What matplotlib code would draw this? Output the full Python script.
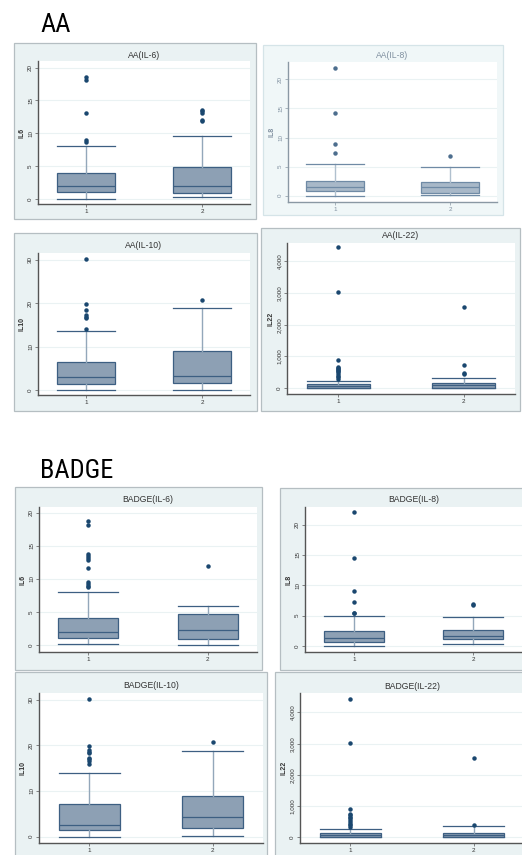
import matplotlib
matplotlib.use("Agg")
import matplotlib.pyplot as plt
from matplotlib.patches import Rectangle
from matplotlib.ticker import FuncFormatter
from matplotlib import font_manager

W, H = 522, 855

# box stats per group: [whisker low, q1, median, q3, whisker high]
aa_il6_box = [[0.0, 1.0, 1.9, 4.0, 8.0], [0.2, 0.9, 2.0, 4.8, 9.5]]
aa_il6_out = [[18.6, 18.1, 13.1, 8.9, 8.7], [13.6, 13.4, 13.1, 12.0, 11.8]]

aa_il8_box = [[0.0, 0.8, 1.5, 2.6, 5.4], [0.1, 0.5, 1.5, 2.4, 5.0]]
aa_il8_out = [[21.9, 14.3, 8.8, 7.3], [6.8]]

aa_il10_box = [[0.15, 1.5, 3.0, 6.4, 13.5], [0.0, 1.7, 3.2, 9.0, 18.9]]
aa_il10_out = [[30.2, 19.9, 18.5, 17.3, 16.8, 16.5, 14.0], [20.7]]

aa_il22_box = [[0, 10, 70, 125, 230], [0, 20, 95, 180, 315]]
aa_il22_out = [[4430, 3030, 890, 680, 650, 620, 580, 550, 500, 450, 400, 350, 300],
               [2565, 720, 490, 450]]

badge_il6_box = [[0.2, 1.05, 2.0, 4.1, 8.0], [0.05, 0.9, 2.2, 4.7, 5.9]]
badge_il6_out = [[18.7, 18.2, 13.7, 13.4, 13.2, 12.9, 11.7, 9.5, 9.2, 8.9, 8.7],
                 [12.0]]

badge_il8_box = [[0.0, 0.65, 1.3, 2.4, 5.0], [0.3, 1.2, 1.6, 2.7, 4.7]]
badge_il8_out = [[22.0, 14.5, 9.0, 7.3, 5.5, 5.4], [6.9, 6.8]]

badge_il10_box = [[0.0, 1.4, 2.6, 7.1, 13.9], [0.2, 1.8, 4.3, 9.0, 18.8]]
badge_il10_out = [[30.1, 19.9, 18.9, 18.6, 18.3, 17.3, 16.9, 16.5, 15.9], [20.7]]

badge_il22_box = [[0, 20, 75, 140, 270], [0, 20, 75, 150, 355]]
badge_il22_out = [[4420, 3020, 890, 740, 700, 660, 620, 560, 500, 440, 380, 330],
                  [2550, 400]]

groups = ["1", "2"]

# colours (Stata s2color look)
BG = "#EAF2F3"
BORDER = "#B5BEC2"
FILL = "#8DA0B4"
EDGE = "#3D5F82"
WHISK = "#93A7BA"
DOT = "#1A476F"

plt.rcParams["font.family"] = ["Liberation Sans", "DejaVu Sans"]

fig = plt.figure(figsize=(W / 100, H / 100), dpi=100)


def px_rect(x0, y0, x1, y1):
    return [x0 / W, 1 - y1 / H, (x1 - x0) / W, (y1 - y0) / H]


def comma(v, pos):
    return f"{int(v):,}"


def panel(frame, plot, title, title_y, ylabel, box, out, ylim, yticks,
          faded=False):
    fx0, fy0, fx1, fy1 = frame
    bg = "#F0F7F8" if faded else BG
    border = "#D5E4E8" if faded else BORDER
    fig.add_artist(Rectangle((fx0 / W, 1 - fy1 / H), (fx1 - fx0) / W,
                             (fy1 - fy0) / H, transform=fig.transFigure,
                             facecolor=bg, edgecolor=border, lw=0.9,
                             zorder=0))
    ax = fig.add_axes(px_rect(*plot))
    ax.set_facecolor("white")

    txt = "#8090A0" if faded else "#333333"
    fill = "#A8B8C8" if faded else FILL
    edge = "#6F8AA5" if faded else EDGE
    whisk = "#B0C0CE" if faded else WHISK
    dot = "#4D6E8E" if faded else DOT
    axis_col = "#8A98A4" if faded else "#555555"

    stats = []
    for b, o in zip(box, out):
        stats.append(dict(whislo=b[0], q1=b[1], med=b[2], q3=b[3],
                          whishi=b[4], fliers=o))
    ax.bxp(stats, positions=[1, 2], widths=0.5, patch_artist=True,
           boxprops=dict(facecolor=fill, edgecolor=edge, lw=0.9),
           medianprops=dict(color=edge, lw=0.9),
           whiskerprops=dict(color=whisk, lw=1.0),
           capprops=dict(color=edge, lw=0.9),
           capwidths=0.5,
           flierprops=dict(marker="o", markersize=2.2, markerfacecolor=dot,
                           markeredgecolor=dot))

    ax.set_xlim(0.59, 2.41)
    ax.set_ylim(*ylim)
    ax.set_xticks([1, 2])
    ax.set_xticklabels(groups)
    ax.set_yticks(yticks)
    if max(yticks) >= 1000:
        ax.yaxis.set_major_formatter(FuncFormatter(comma))
    ax.grid(axis="y", color=BG, lw=0.8)
    ax.set_axisbelow(True)
    for s in ["top", "right"]:
        ax.spines[s].set_visible(False)
    for s in ["left", "bottom"]:
        ax.spines[s].set_color(axis_col)
        ax.spines[s].set_linewidth(1.0)
    ax.tick_params(axis="both", length=2, width=0.5, colors=axis_col,
                   labelsize=4.5, labelcolor=txt, pad=1.5)
    for lab in ax.get_yticklabels():
        lab.set_rotation(90)
        lab.set_va("center")
    ax.set_ylabel(ylabel, fontsize=5, color=txt, labelpad=2,
                  fontweight="bold")

    cx = (plot[0] + plot[2]) / 2
    fig.text(cx / W, 1 - title_y / H, title, ha="center", va="center",
             fontsize=6.2, color=txt)
    return ax


panel((14, 43, 256, 219), (38, 61, 250, 204), "AA(IL-6)", 55, "IL6",
      aa_il6_box, aa_il6_out, (-0.8, 21.0), [0, 5, 10, 15, 20])
panel((263, 45, 503, 215), (288, 62, 497, 202), "AA(IL-8)", 55, "IL8",
      aa_il8_box, aa_il8_out, (-1.1, 23.0), [0, 5, 10, 15, 20], faded=True)
panel((14, 233, 257, 411), (38, 253, 250, 395), "AA(IL-10)", 246, "IL10",
      aa_il10_box, aa_il10_out, (-1.1, 31.5), [0, 10, 20, 30])
panel((261, 228, 520, 411), (287, 243, 515, 394), "AA(IL-22)", 236, "IL22",
      aa_il22_box, aa_il22_out, (-180, 4570), [0, 1000, 2000, 3000, 4000])

panel((15, 487, 262, 670), (39, 507, 257, 652), "BADGE(IL-6)", 499, "IL6",
      badge_il6_box, badge_il6_out, (-1.05, 20.85), [0, 5, 10, 15, 20])
panel((280, 488, 530, 670), (305, 507, 522, 652), "BADGE(IL-8)", 499, "IL8",
      badge_il8_box, badge_il8_out, (-1.0, 22.9), [0, 5, 10, 15, 20])
panel((15, 672, 267, 870), (39, 693, 263, 843), "BADGE(IL-10)", 685, "IL10",
      badge_il10_box, badge_il10_out, (-1.4, 31.45), [0, 10, 20, 30])
panel((275, 672, 530, 870), (300, 693, 524, 843), "BADGE(IL-22)", 686, "IL22",
      badge_il22_box, badge_il22_out, (-185, 4625), [0, 1000, 2000, 3000, 4000])

# section headings: a condensed face if one is around, else a smaller sans
installed = {f.name for f in font_manager.fontManager.ttflist}
narrow = [n for n in ["Liberation Sans Narrow", "Roboto Condensed",
                      "Open Sans Condensed", "DejaVu Sans Condensed"]
          if n in installed]
if narrow:
    head_font, head_size = [narrow[0], "DejaVu Sans"], 19
else:
    head_font, head_size = ["Liberation Sans", "DejaVu Sans"], 15.5

fig.text(40 / W, 1 - 32 / H, "AA", fontsize=head_size, family=head_font,
         ha="left", va="baseline")
fig.text(40 / W, 1 - 478 / H, "BADGE", fontsize=head_size, family=head_font,
         ha="left", va="baseline")

fig.savefig("out.png", dpi=100)
